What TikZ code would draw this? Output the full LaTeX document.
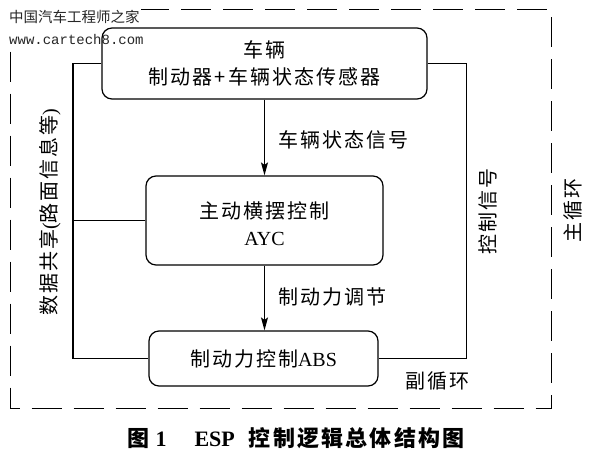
\documentclass[tikz,border=0pt]{standalone}
\usepackage{fontspec}
\setmainfont{Liberation Serif}
\setmonofont{Liberation Mono}
\newfontfamily\cjk{Noto Sans CJK SC}[LetterSpace=10]
\newfontfamily\cjkplain{Noto Sans CJK SC}
\usetikzlibrary{arrows.meta}
\begin{document}
\begin{tikzpicture}[x=1pt,y=-1pt,
  box/.style={draw,line width=1.2pt,rounded corners=10pt,inner sep=0pt,font=\fontsize{20}{27}\selectfont\cjk},
  link/.style={line width=1.2pt},
  arr/.style={link,-{Stealth[length=13pt,width=7pt,inset=2.5pt]}},
  lbl/.style={inner sep=0pt,font=\fontsize{20}{27}\selectfont\cjk},
  frame/.style={line width=1.5pt,dash pattern=on 30pt off 12pt},
  wmark/.style={anchor=west,inner xsep=1pt,fill=white,text=black!85},
]
\useasboundingbox[fill=white] (0,0) rectangle (597,461);
\draw[frame] (10.5,9.5) rectangle (551.5,408.5);
% watermark
\node[wmark,inner ysep=6pt,font=\fontsize{14.5}{14.5}\selectfont\cjkplain] (wm1) at (8,17) {中国汽车工程师之家};
\node[wmark,inner ysep=4pt,font=\fontsize{14}{14}\selectfont\ttfamily] (wm2) at (8,39) {www.cartech8.com};
% boxes
\node[box,minimum width=325pt,minimum height=71pt,align=center] (veh) at (264.5,63.5) {车辆\\制动器+车辆状态传感器};
\node[box,minimum width=237pt,minimum height=89pt] (ayc) at (264.5,220.5) {\raisebox{-6pt}[\height][\depth]{\begin{tabular}{@{}c@{}}主动横摆控制\\{\rmfamily AYC}\end{tabular}}};
\node[box,minimum width=229pt,minimum height=55pt] (abs) at (263.5,358.5) {制动力控制{\rmfamily ABS}};
% connectors
\coordinate (lx) at (73,0);
\coordinate (rx) at (466.5,0);
\draw[arr] (veh.south) -- (veh.south |- ayc.north);
\draw[arr] (ayc.south) -- (ayc.south |- abs.north);
\draw[link] (veh.west) -- (veh.west -| lx) -- (abs.west -| lx) -- (abs.west);
\draw[link] (ayc.west) -- (ayc.west -| lx);
\draw[link] (veh.east) -- (veh.east -| rx) -- (abs.east -| rx) -- (abs.east);
% labels
\node[lbl,anchor=west] (sig) at (278,140) {车辆状态信号};
\node[lbl,anchor=west] (adj) at (278,297) {制动力调节};
\node[lbl,rotate=90] (share) at (50,212) {数据共享{\rmfamily(}路面信息等{\rmfamily)}};
\node[lbl,rotate=90] (ctrl) at (488,211) {控制信号};
\node[lbl,rotate=90] (mainloop) at (573,210) {主循环};
\node[lbl,anchor=west] (subloop) at (405,381) {副循环};
% caption
\node[inner sep=0pt,font=\fontsize{22}{22}\selectfont\bfseries] (cap) at (296,438) {{\cjk 图}\hspace{6pt}1\hspace{28pt}ESP\hspace{14pt}{\cjk 控制逻辑总体结构图}};
\end{tikzpicture}
\end{document}
